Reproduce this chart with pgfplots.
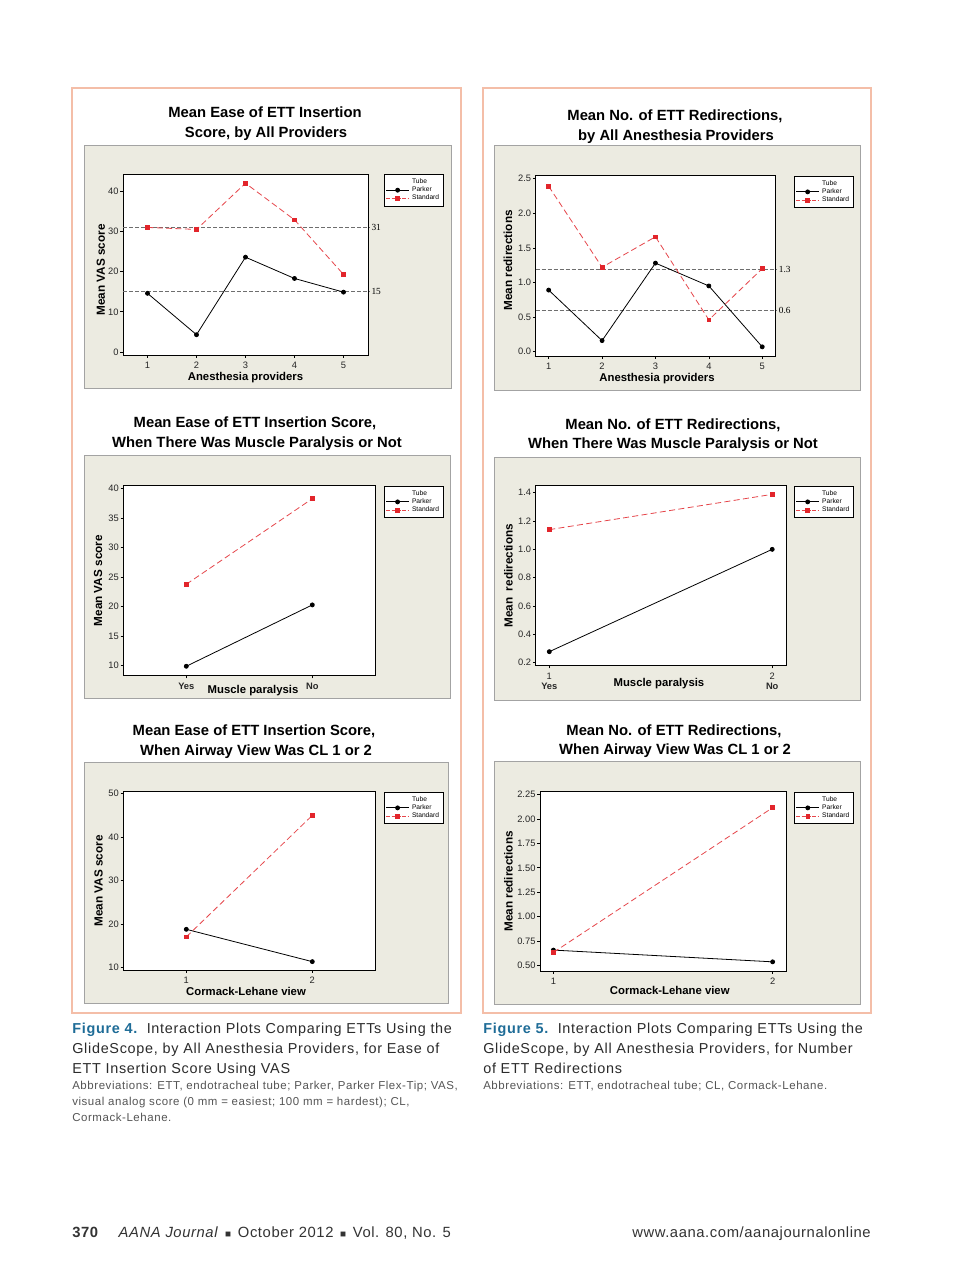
\documentclass[border=0pt]{standalone}
\usepackage{pgfplots}
\pgfplotsset{compat=1.18}
\usepackage{fontspec}
\setmainfont{Liberation Sans}
\newfontfamily\serifnum{Liberation Serif}
\newfontfamily\capfont[LetterSpace=5]{Liberation Sans}
\newfontfamily\footfont[LetterSpace=4]{Liberation Sans}

\definecolor{framec}{HTML}{F4BEA8}
\definecolor{panelc}{HTML}{ECEBE1}
\definecolor{panelb}{HTML}{A3A3A3}
\definecolor{mtred}{HTML}{E2252B}
\definecolor{refc}{HTML}{6E6E6E}
\definecolor{figblue}{HTML}{1E6C97}
\definecolor{captxt}{HTML}{2B2B2B}
\definecolor{abbtxt}{HTML}{555555}

\pgfplotsset{
  mt/.style={
    scale only axis, anchor=north west,
    axis background/.style={fill=white},
    axis line style={line width=0.6pt},
    tick align=outside, tick pos=left,
    major tick length=2pt,
    every tick/.style={black, line width=0.5pt},
    ticklabel style={font=\fontsize{7}{8}\selectfont, text=black!85},
    yticklabel style={inner sep=1.2pt},
    /pgf/number format/assume math mode=true,
    ylabel style={font=\bfseries\fontsize{8.8}{9}\selectfont, anchor=center},
    xlabel style={font=\bfseries\fontsize{8.5}{9}\selectfont, anchor=center},
    legend style={anchor=north west, draw=black, line width=0.5pt, fill=white,
      font=\fontsize{5}{5.5}\selectfont, inner sep=1.2pt, row sep=-3pt},
    legend cell align=left,
    clip=false,
  },
  parker/.style={black, line width=0.6pt, mark=*, mark size=1.5pt, mark options={solid}},
  standard/.style={mtred!85!white, line width=0.6pt, dash pattern=on 4.5pt off 2.5pt,
    mark=square*, mark size=1.4pt, mark options={solid, draw=mtred, fill=mtred},
    legend image code/.code={\draw[##1, dash pattern=on 3pt off 1pt, mark=none]
        (0cm,0cm) -- (0.6cm,0cm);
      \draw[mtred, fill=mtred] plot[mark=square*, mark size=1.4pt] coordinates {(0.3cm,0cm)};}},
  refl/.style={refc, line width=0.6pt, dash pattern=on 3pt off 1.5pt, forget plot},
}
\newcommand{\reflab}{\serifnum\fontsize{7}{7.5}\selectfont}
\newcommand{\sq}{\hspace{5pt}{\fontsize{7.5}{7}\selectfont ■}\hspace{5pt}}

\begin{document}
\begin{tikzpicture}[x=0.75pt, y=-0.75pt, tn/.style={inner sep=0pt, anchor=base}]
\path[use as bounding box, fill=white] (0,0) rectangle (960,1284);

% outer figure frames
\draw[framec, line width=0.9pt] (72,88) rectangle (461,1013);
\draw[framec, line width=0.9pt] (483,88) rectangle (871,1013);

% panel backgrounds
\begin{scope}[fill=panelc, draw=panelb, line width=0.6pt]
  \filldraw (84,145) rectangle (451,388);
  \filldraw (84,455) rectangle (450,698);
  \filldraw (84,762) rectangle (448,1003);
  \filldraw (494,145) rectangle (860,390);
  \filldraw (494,457) rectangle (860,700);
  \filldraw (494,761) rectangle (860,1004);
\end{scope}

% panel titles
\begin{scope}[font=\bfseries\fontsize{11.1}{12}\selectfont]
  \node[tn] at (265,118) {Mean Ease of ETT Insertion};
  \node[tn] at (266,138) {Score, by All Providers};
  \node[tn] at (675,121) {Mean No. of ETT Redirections,};
  \node[tn] at (676,141) {by All Anesthesia Providers};
  \node[tn] at (255,427) {Mean Ease of ETT Insertion Score,};
  \node[tn] at (257,447) {When There Was Muscle Paralysis or Not};
  \node[tn] at (673,429) {Mean No. of ETT Redirections,};
  \node[tn] at (673,448) {When There Was Muscle Paralysis or Not};
  \node[tn] at (254,735) {Mean Ease of ETT Insertion Score,};
  \node[tn] at (256,755) {When Airway View Was CL 1 or 2};
  \node[tn] at (674,735) {Mean No. of ETT Redirections,};
  \node[tn] at (675,754) {When Airway View Was CL 1 or 2};
\end{scope}

\coordinate (L1) at (123,174);
\coordinate (R1) at (535.7,175.7);
\coordinate (L2) at (123.3,485.7);
\coordinate (R2) at (535.7,485.7);
\coordinate (L3) at (123.3,791.7);
\coordinate (R3) at (540,791.7);

% ---- Figure 4, panel 1
\begin{axis}[mt, at={(L1)}, width=183.75pt, height=135.75pt,
    xmin=0.5, xmax=5.5, ymin=-0.75, ymax=44.3,
    xtick={1,2,3,4,5}, ytick={0,10,20,30,40},
    xlabel={Anesthesia providers}, ylabel={Mean VAS score},
    xlabel style={at={(axis description cs:0.5,-0.127)}},
    ylabel style={at={(axis description cs:-0.09,0.47)}},
    legend style={at={(1.065,1)}}]
  \addlegendimage{empty legend}\addlegendentry{Tube}
  \addplot[refl] coordinates {(0.5,31) (5.54,31)};
  \addplot[refl] coordinates {(0.5,15) (5.54,15)};
  \addplot[parker] coordinates {(1,14.6) (2,4.3) (3,23.6) (4,18.3) (5,14.9)};
  \addlegendentry{Parker}
  \addplot[standard] coordinates {(1,31.0) (2,30.5) (3,42.0) (4,32.9) (5,19.3)};
  \addlegendentry{Standard}
  \node[anchor=west, font=\reflab, inner sep=1pt] at (axis cs:5.54,31) {31};
  \node[anchor=west, font=\reflab, inner sep=1pt] at (axis cs:5.54,15) {15};
\end{axis}

% ---- Figure 5, panel 1
\begin{axis}[mt, at={(R1)}, width=179.5pt, height=135.2pt,
    xmin=0.757, xmax=5.24, ymin=-0.062, ymax=2.543,
    xtick={1,2,3,4,5}, ytick={0,0.5,1,1.5,2,2.5},
    yticklabel style={/pgf/number format/.cd, fixed, fixed zerofill, precision=1},
    xlabel={Anesthesia providers}, ylabel={Mean redirections},
    xlabel style={at={(axis description cs:0.507,-0.128)}},
    ylabel style={at={(axis description cs:-0.116,0.53)}},
    legend style={at={(1.079,1)}}]
  \addlegendimage{empty legend}\addlegendentry{Tube}
  \addplot[refl] coordinates {(0.757,1.19) (5.283,1.19)};
  \addplot[refl] coordinates {(0.757,0.60) (5.283,0.60)};
  \addplot[parker] coordinates {(1,0.89) (2,0.16) (3,1.28) (4,0.95) (5,0.07)};
  \addlegendentry{Parker}
  \addplot[standard] coordinates {(1,2.39) (2,1.22) (3,1.66) (4,0.46) (5,1.20)};
  \addlegendentry{Standard}
  \node[anchor=west, font=\reflab, inner sep=1pt] at (axis cs:5.283,1.19) {1.3};
  \node[anchor=west, font=\reflab, inner sep=1pt] at (axis cs:5.283,0.60) {0.6};
\end{axis}

% ---- Figure 4, panel 2
\begin{axis}[mt, at={(L2)}, width=189pt, height=142.5pt,
    xmin=0.5, xmax=2.5, ymin=8.3, ymax=40.5,
    xtick={1,2}, xticklabels={\textbf{Yes},\textbf{No}},
    ytick={10,15,20,25,30,35,40},
    xlabel={Muscle paralysis}, ylabel={Mean VAS score},
    xlabel style={at={(axis description cs:0.515,-0.08)}},
    ylabel style={at={(axis description cs:-0.1,0.5)}},
    legend style={at={(1.034,1)}}]
  \addlegendimage{empty legend}\addlegendentry{Tube}
  \addplot[parker] coordinates {(1,9.9) (2,20.3)};
  \addlegendentry{Parker}
  \addplot[standard] coordinates {(1,23.8) (2,38.3)};
  \addlegendentry{Standard}
\end{axis}

% ---- Figure 5, panel 2
\begin{axis}[mt, at={(R2)}, width=188.25pt, height=135pt,
    xmin=0.939, xmax=2.065, ymin=0.179, ymax=1.449,
    xtick={1,2}, xticklabels={{1\\\textbf{Yes}},{2\\\textbf{No}}},
    xticklabel style={align=center, font=\fontsize{7}{7.5}\selectfont},
    ytick={0.2,0.4,0.6,0.8,1.0,1.2,1.4},
    yticklabel style={/pgf/number format/.cd, fixed, fixed zerofill, precision=1},
    xlabel={Muscle paralysis}, ylabel={Mean\ \ redirections},
    xlabel style={at={(axis description cs:0.491,-0.1)}},
    ylabel style={at={(axis description cs:-0.109,0.5)}},
    legend style={at={(1.029,1)}}]
  \addlegendimage{empty legend}\addlegendentry{Tube}
  \addplot[parker] coordinates {(1,0.278) (2,1.0)};
  \addlegendentry{Parker}
  \addplot[standard] coordinates {(1,1.139) (2,1.388)};
  \addlegendentry{Standard}
\end{axis}

% ---- Figure 4, panel 3
\begin{axis}[mt, at={(L3)}, width=189pt, height=133.7pt,
    xmin=0.5, xmax=2.5, ymin=9.38, ymax=50.46,
    xtick={1,2}, ytick={10,20,30,40,50},
    xlabel={Cormack-Lehane view}, ylabel={Mean VAS score},
    xlabel style={at={(axis description cs:0.487,-0.123)}},
    ylabel style={at={(axis description cs:-0.098,0.5)}},
    legend style={at={(1.034,1)}}]
  \addlegendimage{empty legend}\addlegendentry{Tube}
  \addplot[parker] coordinates {(1,18.75) (2,11.3)};
  \addlegendentry{Parker}
  \addplot[standard] coordinates {(1,17.0) (2,45.0)};
  \addlegendentry{Standard}
\end{axis}

% ---- Figure 5, panel 3
\begin{axis}[mt, at={(R3)}, width=185pt, height=134.5pt,
    xmin=0.939, xmax=2.064, ymin=0.446, ymax=2.277,
    xtick={1,2}, ytick={0.5,0.75,1,1.25,1.5,1.75,2,2.25},
    yticklabel style={/pgf/number format/.cd, fixed, fixed zerofill, precision=2},
    xlabel={Cormack-Lehane view}, ylabel={Mean redirections},
    xlabel style={at={(axis description cs:0.526,-0.106)}},
    ylabel style={at={(axis description cs:-0.128,0.5)}},
    legend style={at={(1.03,1)}}]
  \addlegendimage{empty legend}\addlegendentry{Tube}
  \addplot[parker] coordinates {(1,0.66) (2,0.54)};
  \addlegendentry{Parker}
  \addplot[standard] coordinates {(1,0.636) (2,2.114)};
  \addlegendentry{Standard}
\end{axis}

% captions
\begin{scope}[font=\capfont\fontsize{10.8}{12}\selectfont, text=captxt]
  \node[tn, anchor=base west] at (72,1033) {\textcolor{figblue}{\bfseries Figure 4.}\ \ Interaction Plots Comparing ETTs Using the};
  \node[tn, anchor=base west] at (72,1053) {GlideScope, by All Anesthesia Providers, for Ease of};
  \node[tn, anchor=base west] at (72,1073) {ETT Insertion Score Using VAS};
  \node[tn, anchor=base west] at (483,1033) {\textcolor{figblue}{\bfseries Figure 5.}\ \ Interaction Plots Comparing ETTs Using the};
  \node[tn, anchor=base west] at (483,1053) {GlideScope, by All Anesthesia Providers, for Number};
  \node[tn, anchor=base west] at (483,1073) {of ETT Redirections};
\end{scope}
\begin{scope}[font=\capfont\fontsize{8.6}{10}\selectfont, text=abbtxt]
  \node[tn, anchor=base west] at (72,1089) {Abbreviations: ETT, endotracheal tube; Parker, Parker Flex-Tip; VAS,};
  \node[tn, anchor=base west] at (72,1105) {visual analog score (0 mm = easiest; 100 mm = hardest); CL,};
  \node[tn, anchor=base west] at (72,1121) {Cormack-Lehane.};
  \node[tn, anchor=base west] at (483,1089) {Abbreviations: ETT, endotracheal tube; CL, Cormack-Lehane.};
\end{scope}

% footer
\begin{scope}[font=\footfont\fontsize{11.1}{12}\selectfont, text=black!80]
  \node[tn, anchor=base west] at (72,1237) {\textbf{370}\hspace{15pt}\textit{AANA Journal}\sq October 2012\sq Vol. 80, No. 5};
  \node[tn, anchor=base east] at (871,1237) {www.aana.com/aanajournalonline};
\end{scope}
\end{tikzpicture}
\end{document}
